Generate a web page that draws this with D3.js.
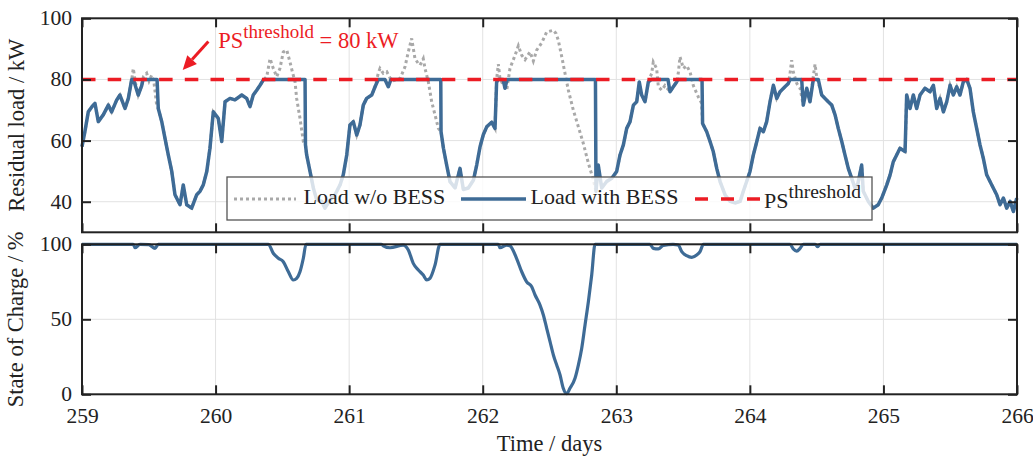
<!DOCTYPE html>
<html><head><meta charset="utf-8">
<script src="https://cdn.jsdelivr.net/npm/d3@7"></script>
<style>
body{margin:0;background:#fff}
svg{display:block}
text{font-family:"Liberation Serif","Times New Roman",serif;fill:#222}
</style>
</head><body><svg id="c" width="1033" height="462"></svg>
<script>
// ---------------- data ----------------
const dayTicks = [259, 260, 261, 262, 263, 264, 265, 266];
const loadTicks = [40, 60, 80, 100];
const socTicks = [0, 50, 100];
const thresholdKW = 80;
const seriesNames = ["Load w/o BESS", "Load with BESS", "PS"];

const loadWithBESS = [[259.000,58],[259.022,63],[259.047,69.4],[259.073,71],[259.097,72.2],[259.122,66.2],[259.159,68.4],[259.197,71.6],[259.222,69.4],[259.260,73.3],[259.284,74.9],[259.322,70.5],[259.347,73.8],[259.372,80],[259.385,80],[259.421,74.9],[259.447,78],[259.457,80],[259.562,80],[259.571,70.5],[259.597,66.2],[259.621,60.8],[259.646,55.3],[259.672,49.9],[259.696,42.3],[259.734,39],[259.758,45.5],[259.784,39],[259.821,37.9],[259.859,42.3],[259.883,43.4],[259.908,45.5],[259.934,49.9],[259.958,57.5],[259.983,69.4],[260.020,67.3],[260.046,59.7],[260.071,72.7],[260.108,73.8],[260.145,73.3],[260.196,74.9],[260.233,73.8],[260.258,71.1],[260.282,74.9],[260.308,76.5],[260.333,78.1],[260.357,79.8],[260.370,80],[260.670,80],[260.673,58.6],[260.682,55.3],[260.707,49.9],[260.732,44.5],[260.757,40.6],[260.795,40.1],[260.819,37.9],[260.857,40.6],[260.894,42.3],[260.932,45.5],[260.956,48.8],[260.982,55.3],[261.006,65.1],[261.031,66.2],[261.057,61.8],[261.081,65.1],[261.106,71.6],[261.131,73.8],[261.169,74.9],[261.194,77.6],[261.218,80],[261.268,80],[261.293,77.6],[261.313,80],[261.686,80],[261.688,62.9],[261.706,57.5],[261.730,52],[261.755,46.6],[261.793,44.5],[261.830,50.9],[261.855,44],[261.892,44.5],[261.930,47],[261.955,52],[261.980,58],[262.005,62],[262.030,64.5],[262.067,66],[262.092,64],[262.104,79],[262.114,80],[262.152,80],[262.167,77.1],[262.182,80],[262.844,80],[262.848,43.4],[262.865,52],[262.891,44.5],[262.928,46.6],[262.966,47.7],[263.003,49.9],[263.028,55.3],[263.053,58.6],[263.078,64],[263.103,66.2],[263.128,71.6],[263.153,72.7],[263.172,79.2],[263.190,74.9],[263.215,72.7],[263.240,79.2],[263.265,80],[263.387,80],[263.402,76],[263.427,77.6],[263.452,79.2],[263.462,80],[263.642,80],[263.646,65.6],[263.677,62.9],[263.702,59.7],[263.726,56.4],[263.752,50.9],[263.777,46.6],[263.814,42.3],[263.852,40.1],[263.889,39.6],[263.927,40.1],[263.951,43.4],[263.976,46.6],[264.001,49.9],[264.026,55.3],[264.052,59.7],[264.076,64],[264.101,62.9],[264.126,66.2],[264.151,72.7],[264.176,78.1],[264.201,73.8],[264.226,76],[264.263,77.6],[264.288,78.7],[264.301,80],[264.388,80],[264.400,71.6],[264.426,77.1],[264.450,72.7],[264.475,80],[264.512,80],[264.538,74.9],[264.563,73.8],[264.587,72.7],[264.613,71.6],[264.638,68.4],[264.662,64],[264.688,59.7],[264.712,55.3],[264.737,50.9],[264.762,47.7],[264.787,44.5],[264.809,46],[264.837,52],[264.849,43.4],[264.887,40.1],[264.924,37.9],[264.961,39],[264.987,41.2],[265.025,45.5],[265.050,48.8],[265.074,53.1],[265.099,55.3],[265.124,57.5],[265.162,56.4],[265.174,74.9],[265.199,70.5],[265.224,74.9],[265.249,70.5],[265.274,74.9],[265.311,77.1],[265.349,76],[265.374,78.1],[265.399,70.5],[265.424,73.8],[265.449,69.4],[265.474,72.7],[265.499,78.1],[265.523,74.9],[265.549,77.6],[265.573,74.9],[265.598,79.2],[265.624,80],[265.648,77.1],[265.673,69.4],[265.698,64],[265.723,58.6],[265.748,54.2],[265.773,48.8],[265.811,45.5],[265.848,42.3],[265.873,39],[265.898,41.2],[265.923,37.9],[265.948,40.1],[265.973,36.8],[265.998,41.2]];

const loadWithoutBESS = [[259.000,58],[259.022,63],[259.047,69.4],[259.073,71],[259.097,72.2],[259.122,66.2],[259.159,68.4],[259.197,71.6],[259.222,69.4],[259.260,73.3],[259.284,74.9],[259.322,70.5],[259.347,73.8],[259.372,80],[259.384,83.6],[259.400,79],[259.421,74.9],[259.447,78],[259.460,81],[259.484,82],[259.502,79.5],[259.522,81.4],[259.539,79],[259.559,71.6],[259.571,70.5],[259.597,66.2],[259.621,60.8],[259.646,55.3],[259.672,49.9],[259.696,42.3],[259.734,39],[259.758,45.5],[259.784,39],[259.821,37.9],[259.859,42.3],[259.883,43.4],[259.908,45.5],[259.934,49.9],[259.958,57.5],[259.983,69.4],[260.020,67.3],[260.046,59.7],[260.071,72.7],[260.108,73.8],[260.145,73.3],[260.196,74.9],[260.233,73.8],[260.258,71.1],[260.282,74.9],[260.308,76.5],[260.333,78.1],[260.357,79.8],[260.383,80.9],[260.408,86.8],[260.432,83.6],[260.458,80.9],[260.482,83.6],[260.507,89],[260.533,89.6],[260.557,85.7],[260.575,82.5],[260.595,79.2],[260.607,73.8],[260.632,67.3],[260.657,59.7],[260.673,58.6],[260.682,55.3],[260.707,49.9],[260.732,44.5],[260.757,40.6],[260.795,40.1],[260.819,37.9],[260.857,40.6],[260.894,42.3],[260.932,45.5],[260.956,48.8],[260.982,55.3],[261.006,65.1],[261.031,66.2],[261.057,61.8],[261.081,65.1],[261.106,71.6],[261.131,73.8],[261.169,74.9],[261.194,77.6],[261.218,82],[261.231,83.6],[261.256,82],[261.282,82.5],[261.306,80.5],[261.321,79.5],[261.343,79.8],[261.381,80.3],[261.418,84.1],[261.443,89],[261.468,93.4],[261.493,86.8],[261.518,85.2],[261.531,84.7],[261.555,86.8],[261.568,83.6],[261.593,79.2],[261.618,72.7],[261.643,68.4],[261.668,64],[261.688,62.9],[261.706,57.5],[261.730,52],[261.755,46.6],[261.793,44.5],[261.830,50.9],[261.855,44],[261.892,44.5],[261.930,47],[261.955,52],[261.980,58],[262.005,62],[262.030,64.5],[262.067,66],[262.092,64],[262.104,80],[262.117,85],[262.129,80.3],[262.154,78.1],[262.180,76.5],[262.204,83.6],[262.242,87.9],[262.267,91],[262.292,87.9],[262.317,86.5],[262.354,89],[262.379,86],[262.404,89.6],[262.442,92],[262.479,95.5],[262.504,95.8],[262.529,96.1],[262.549,95],[262.566,92.8],[262.592,87.4],[262.616,82],[262.641,76.5],[262.678,70],[262.716,64.5],[262.753,59.1],[262.791,52.6],[262.828,47.2],[262.848,43.4],[262.865,52],[262.891,44.5],[262.928,46.6],[262.966,47.7],[263.003,49.9],[263.028,55.3],[263.053,58.6],[263.078,64],[263.103,66.2],[263.128,71.6],[263.153,72.7],[263.172,79.2],[263.190,74.9],[263.215,72.7],[263.240,79.2],[263.265,82],[263.277,85.7],[263.302,83.6],[263.315,77.6],[263.340,76.5],[263.364,78],[263.402,76],[263.427,77.6],[263.452,79.2],[263.464,82],[263.477,87.4],[263.502,83.6],[263.527,84.5],[263.552,82.5],[263.577,78],[263.614,74.3],[263.639,72.2],[263.646,65.6],[263.677,62.9],[263.702,59.7],[263.726,56.4],[263.752,50.9],[263.777,46.6],[263.814,42.3],[263.852,40.1],[263.889,39.6],[263.927,40.1],[263.951,43.4],[263.976,46.6],[264.001,49.9],[264.026,55.3],[264.052,59.7],[264.076,64],[264.101,62.9],[264.126,66.2],[264.151,72.7],[264.176,78.1],[264.201,73.8],[264.226,76],[264.263,77.6],[264.288,78.7],[264.301,82],[264.313,86.3],[264.325,82.5],[264.351,78.7],[264.376,77.1],[264.400,71.6],[264.426,77.1],[264.450,72.7],[264.475,81],[264.488,85],[264.500,80.9],[264.512,79],[264.538,74.9],[264.563,73.8],[264.587,72.7],[264.613,71.6],[264.638,68.4],[264.662,64],[264.688,59.7],[264.712,55.3],[264.737,50.9],[264.762,47.7],[264.787,44.5],[264.809,46],[264.837,52],[264.849,43.4],[264.887,40.1],[264.924,37.9],[264.961,39],[264.987,41.2],[265.025,45.5],[265.050,48.8],[265.074,53.1],[265.099,55.3],[265.124,57.5],[265.162,56.4],[265.174,74.9],[265.199,70.5],[265.224,74.9],[265.249,70.5],[265.274,74.9],[265.311,77.1],[265.349,76],[265.374,78.1],[265.399,70.5],[265.424,73.8],[265.449,69.4],[265.474,72.7],[265.499,78.1],[265.523,74.9],[265.549,77.6],[265.573,74.9],[265.598,79.2],[265.624,80],[265.648,77.1],[265.673,69.4],[265.698,64],[265.723,58.6],[265.748,54.2],[265.773,48.8],[265.811,45.5],[265.848,42.3],[265.873,39],[265.898,41.2],[265.923,37.9],[265.948,40.1],[265.973,36.8],[265.998,41.2]];

const stateOfCharge = [[259,100],[259.384,100],[259.397,97.7],[259.434,100],[259.5,99.8],[259.547,97.3],[259.571,100],[260.395,100],[260.432,94],[260.47,90.7],[260.507,88.4],[260.545,81.7],[260.582,76.2],[260.607,77.3],[260.632,81.7],[260.657,90.7],[260.677,100],[261.24,100],[261.256,99],[261.306,97.7],[261.405,99.5],[261.443,96.2],[261.48,87.3],[261.518,82.9],[261.555,79.5],[261.581,76.2],[261.605,77.3],[261.643,86.2],[261.68,100],[262.117,100],[262.129,97.7],[262.18,99.5],[262.204,99],[262.254,90.5],[262.292,81.7],[262.329,75],[262.367,71.7],[262.392,66.2],[262.429,59.5],[262.454,52.9],[262.479,44],[262.504,35.1],[262.529,26.2],[262.554,19.5],[262.579,12.9],[262.603,4],[262.629,0.5],[262.653,4],[262.691,10.7],[262.716,19.5],[262.741,30.6],[262.766,46.2],[262.791,61.7],[262.816,79.5],[262.841,100],[263.252,100],[263.277,97.3],[263.315,96.9],[263.352,99.3],[263.425,100],[263.464,99.5],[263.49,95.1],[263.527,92.4],[263.565,91.3],[263.602,92.9],[263.627,95.1],[263.652,100],[264.301,100],[264.325,96.9],[264.351,95.5],[264.376,97.3],[264.4,100],[264.49,100],[264.506,98.4],[264.526,100],[266,100]];

// annotation anchor points in data units [day, kW]
const arrowTail = [259.946, 92.4];
const arrowTip = [259.754, 83.1];
const labelAnchor = [260.02, 90.2];

// ---------------- layout ----------------
const C = {blue:"#3e6b96", grey:"#a9a9a9", red:"#ec1c24", axis:"#222", grid:"#e2e2e2"};
const svg = d3.select("#c");
const X0 = 82, X1 = 1017;
const pTop = {y0: 18.3, y1: 232.3};
const pBot = {y0: 244.3, y1: 394.3};

const x = d3.scaleLinear().domain([259, 266]).range([X0, X1]);
const yL = d3.scaleLinear().domain([30, 100]).range([pTop.y1, pTop.y0]);
const yS = d3.scaleLinear().domain([0, 100]).range([pBot.y1, pBot.y0]);

function panel(y, ticks, yr) {
  const g = svg.append("g");
  g.selectAll(".gx").data(dayTicks.slice(1, -1)).join("line")
    .attr("x1", d => x(d)).attr("x2", d => x(d)).attr("y1", yr.y0).attr("y2", yr.y1)
    .attr("stroke", C.grid).attr("stroke-width", 1);
  g.selectAll(".gy").data(ticks.filter(t => y(t) > yr.y0 + 1 && y(t) < yr.y1 - 1)).join("line")
    .attr("x1", X0).attr("x2", X1).attr("y1", d => y(d)).attr("y2", d => y(d))
    .attr("stroke", C.grid).attr("stroke-width", 1);
  return g;
}
function frame(y, ticks, yr, labelsX) {
  const g = svg.append("g");
  const tl = 9;
  g.append("g").attr("transform", `translate(0,${yr.y1})`)
    .call(d3.axisBottom(x).tickValues(dayTicks).tickSizeInner(-tl).tickSizeOuter(0).tickFormat(labelsX ? d3.format("d") : ""))
    .call(a => { a.select(".domain").remove();
      a.selectAll(".tick line").attr("stroke", C.axis).attr("stroke-width", 2);
      a.selectAll(".tick text").attr("y", 29).attr("dy", "0").attr("font-size", 21.5).attr("fill", C.axis)
        .style("font-family", '"Liberation Serif",serif'); });
  g.append("g").attr("transform", `translate(0,${yr.y0})`)
    .call(d3.axisTop(x).tickValues(dayTicks).tickSizeInner(-tl).tickSizeOuter(0).tickFormat(""))
    .call(a => { a.select(".domain").remove(); a.selectAll(".tick line").attr("stroke", C.axis).attr("stroke-width", 2); });
  g.append("g").attr("transform", `translate(${X0},0)`)
    .call(d3.axisLeft(y).tickValues(ticks).tickSizeInner(-tl).tickSizeOuter(0).tickPadding(10).tickFormat(d3.format("d")))
    .call(a => { a.select(".domain").remove();
      a.selectAll(".tick line").attr("stroke", C.axis).attr("stroke-width", 2);
      a.selectAll(".tick text").attr("dy", "0.3em").attr("font-size", 21.5).attr("fill", C.axis)
        .style("font-family", '"Liberation Serif",serif'); });
  g.append("g").attr("transform", `translate(${X1},0)`)
    .call(d3.axisRight(y).tickValues(ticks).tickSizeInner(-tl).tickSizeOuter(0).tickFormat(""))
    .call(a => { a.select(".domain").remove(); a.selectAll(".tick line").attr("stroke", C.axis).attr("stroke-width", 2); });
  g.append("rect").attr("x", X0).attr("y", yr.y0).attr("width", X1 - X0).attr("height", yr.y1 - yr.y0)
    .attr("fill", "none").attr("stroke", C.axis).attr("stroke-width", 2);
}

// ---------- top panel ----------
panel(yL, loadTicks, pTop);
const lineL = d3.line().x(d => x(d[0])).y(d => yL(d[1]));
svg.append("path").datum(loadWithoutBESS).attr("d", lineL).attr("fill", "none")
  .attr("stroke", C.grey).attr("stroke-width", 3).attr("stroke-dasharray", "3,3");
svg.append("path").datum(loadWithBESS).attr("d", lineL).attr("fill", "none")
  .attr("stroke", C.blue).attr("stroke-width", 3.5).attr("stroke-linejoin", "round");
svg.append("line").attr("x1", x(259)).attr("x2", x(266)).attr("y1", yL(thresholdKW)).attr("y2", yL(thresholdKW))
  .attr("stroke", C.red).attr("stroke-width", 3.6).attr("stroke-dasharray", "13.5,12.2");
frame(yL, loadTicks, pTop, false);

// ---------- bottom panel ----------
panel(yS, socTicks, pBot);
svg.append("path").datum(stateOfCharge)
  .attr("d", d3.line().x(d => x(d[0])).y(d => yS(d[1])).curve(d3.curveMonotoneX))
  .attr("fill", "none").attr("stroke", C.blue).attr("stroke-width", 3.2).attr("stroke-linejoin", "round");
frame(yS, socTicks, pBot, true);

// ---------- legend ----------
const lg = svg.append("g");
lg.append("rect").attr("x", 227).attr("y", 177).attr("width", 645).attr("height", 43)
  .attr("fill", "#fff").attr("fill-opacity", 0.8).attr("stroke", "#555").attr("stroke-width", 1.3);
const ly = 199;
lg.append("line").attr("x1", 234).attr("x2", 296).attr("y1", ly).attr("y2", ly)
  .attr("stroke", C.grey).attr("stroke-width", 3).attr("stroke-dasharray", "3,3");
lg.append("text").attr("x", 303.5).attr("y", 204).attr("font-size", 22).text(seriesNames[0]);
lg.append("line").attr("x1", 461).attr("x2", 526).attr("y1", ly).attr("y2", ly)
  .attr("stroke", C.blue).attr("stroke-width", 3.6);
lg.append("text").attr("x", 530.5).attr("y", 204).attr("font-size", 22).text(seriesNames[1]);
lg.append("line").attr("x1", 695).attr("x2", 760).attr("y1", ly).attr("y2", ly)
  .attr("stroke", C.red).attr("stroke-width", 3.6).attr("stroke-dasharray", "13,13");
const lt = lg.append("text").attr("x", 764).attr("y", 208).attr("font-size", 22);
lt.append("tspan").text(seriesNames[2]);
lt.append("tspan").attr("dy", -10.5).attr("font-size", 19.5).text("threshold");

// ---------- annotation ----------
const ann = svg.append("g");
const at = [x(arrowTail[0]), yL(arrowTail[1])], ap = [x(arrowTip[0]), yL(arrowTip[1])];
const dx = ap[0] - at[0], dy = ap[1] - at[1], len = Math.hypot(dx, dy);
const ux = dx / len, uy = dy / len, hl = 14, hw = 6.5;
const base = [ap[0] - ux * hl, ap[1] - uy * hl];
ann.append("line").attr("x1", at[0]).attr("y1", at[1]).attr("x2", base[0]).attr("y2", base[1])
  .attr("stroke", C.red).attr("stroke-width", 3);
ann.append("path").attr("d", `M${ap[0]},${ap[1]}L${base[0] - uy * hw},${base[1] + ux * hw}L${base[0] + uy * hw},${base[1] - ux * hw}Z`)
  .attr("fill", C.red);
const tx = ann.append("text").attr("x", x(labelAnchor[0])).attr("y", yL(labelAnchor[1])).attr("font-size", 22.5).style("fill", C.red);
tx.append("tspan").text("PS");
tx.append("tspan").attr("dy", -10.5).attr("font-size", 19).text("threshold");
tx.append("tspan").attr("dy", 10.5).text(" = " + thresholdKW + " kW");

// ---------- axis labels ----------
svg.append("text").attr("transform", `translate(24,${(pTop.y0 + pTop.y1) / 2}) rotate(-90)`)
  .attr("text-anchor", "middle").attr("font-size", 22.5).text("Residual load / kW");
svg.append("text").attr("transform", `translate(23,${(pBot.y0 + pBot.y1) / 2}) rotate(-90)`)
  .attr("text-anchor", "middle").attr("font-size", 22.5).text("State of Charge / %");
svg.append("text").attr("x", (X0 + X1) / 2).attr("y", 451).attr("text-anchor", "middle")
  .attr("font-size", 22.5).text("Time / days");
</script>
</body></html>
